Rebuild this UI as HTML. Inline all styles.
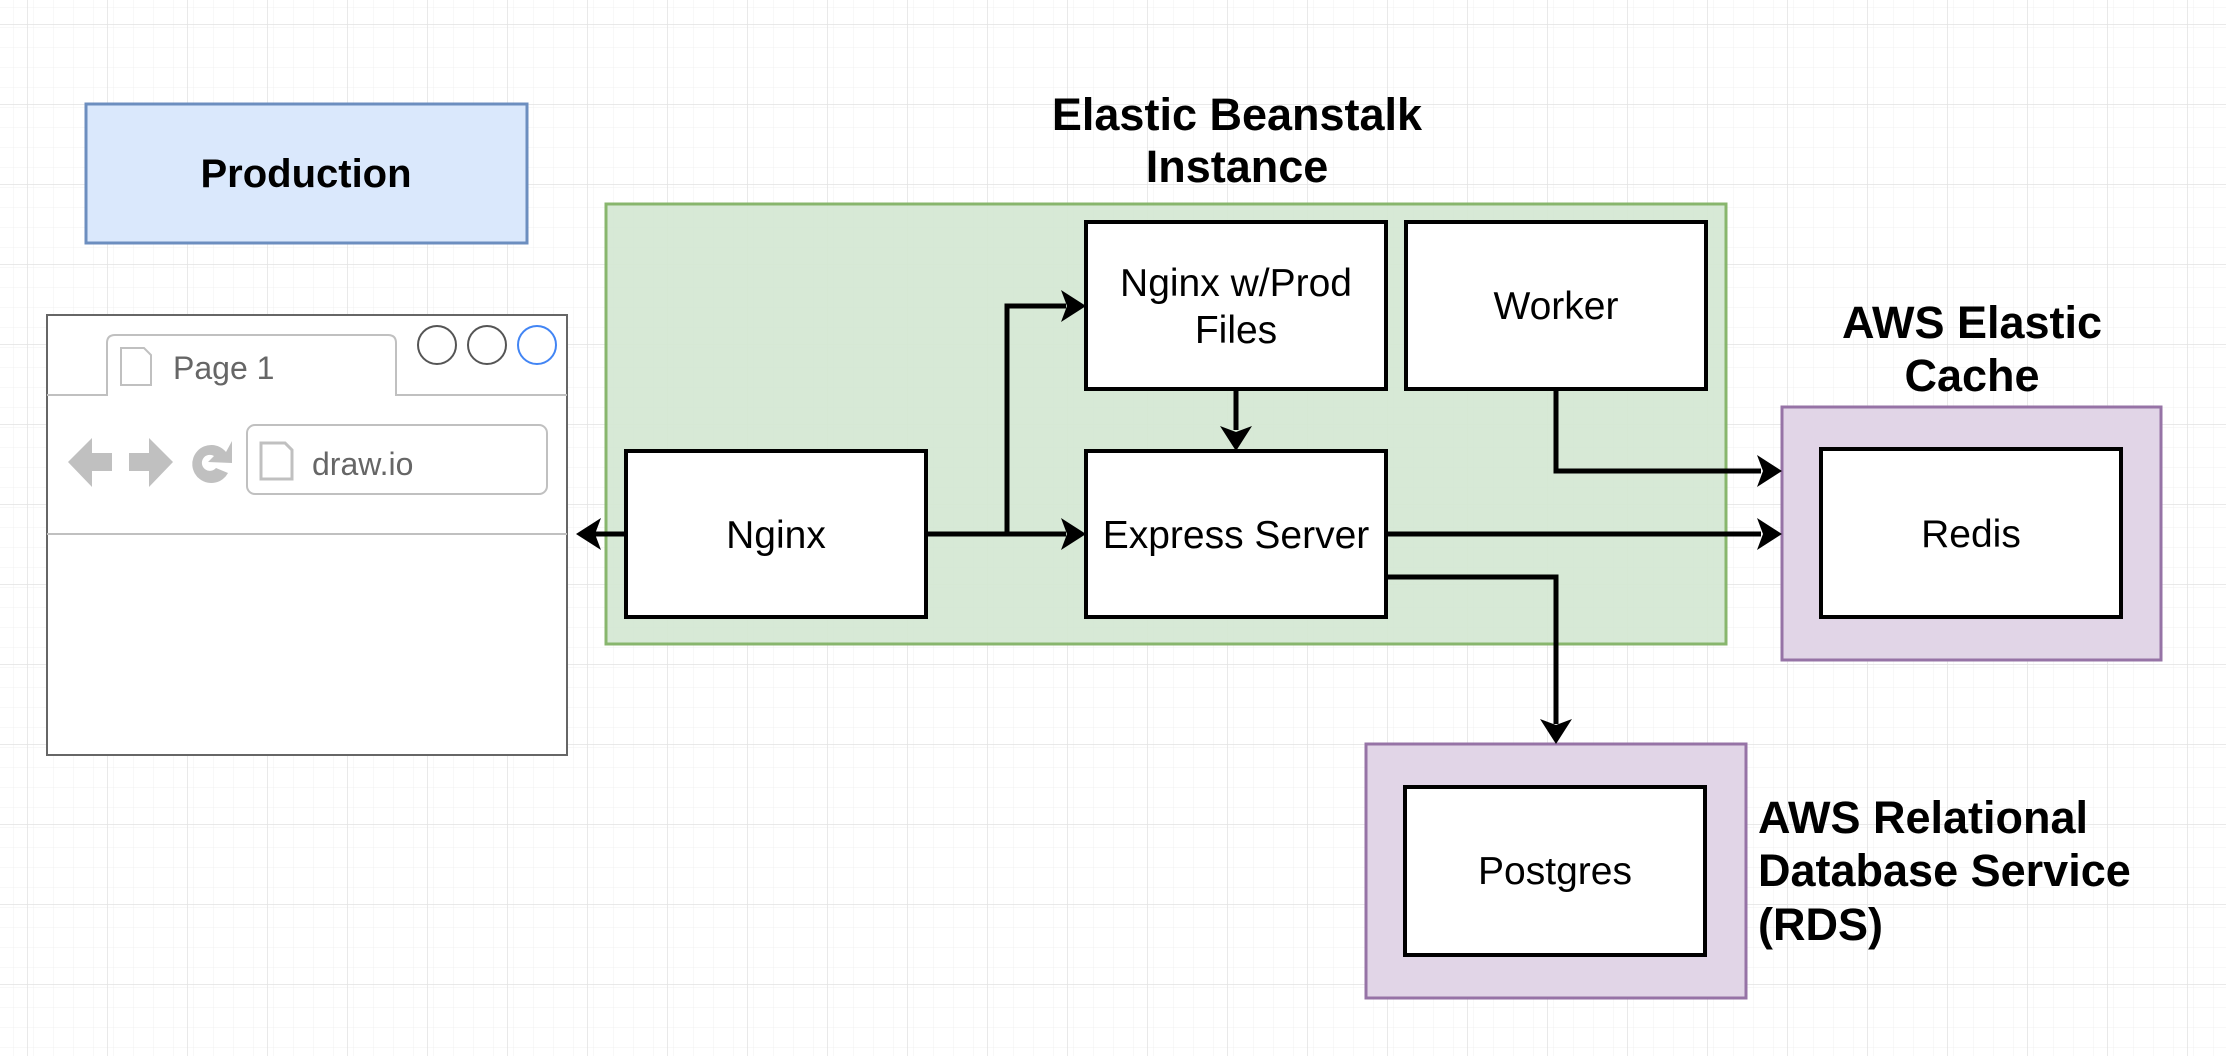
<!DOCTYPE html>
<html><head><meta charset="utf-8"><style>
html,body{margin:0;padding:0;background:#fff}
svg{display:block}
text{font-family:"Liberation Sans",Arial,sans-serif}
</style></head><body>
<svg width="2226" height="1056" viewBox="0 0 2226 1056" xmlns="http://www.w3.org/2000/svg">
<defs>
<pattern id="minor" width="20" height="20" patternUnits="userSpaceOnUse" x="7" y="4">
<path d="M20 0V20M0 20H20" fill="none" stroke="#f0f0f0" stroke-width="1"/>
</pattern>
<pattern id="major" width="80" height="80" patternUnits="userSpaceOnUse" x="27" y="24">
<rect width="80" height="80" fill="url(#minor)"/>
<path d="M0 0V80M0 0H80" fill="none" stroke="#e2e2e2" stroke-width="1.5"/>
</pattern>
</defs>
<rect width="2226" height="1056" fill="url(#major)"/>

<!-- Production -->
<rect x="86" y="104" width="441" height="139" fill="#dae8fc" stroke="#6c8ebf" stroke-width="3"/>
<text x="306" y="187" font-size="40" font-weight="bold" text-anchor="middle">Production</text>

<!-- Browser -->
<rect x="47" y="315" width="520" height="440" fill="#fff" stroke="#666" stroke-width="2"/>
<path d="M47 395H107V343Q107 335 115 335H388Q396 335 396 343V395H567" fill="none" stroke="#c0c0c0" stroke-width="2"/>
<path d="M121 348H144L151 355V385H121Z" fill="#fff" stroke="#c0c0c0" stroke-width="2"/>
<text x="173" y="379" font-size="32" fill="#666">Page 1</text>
<circle cx="437" cy="345" r="19" fill="#fff" stroke="#555" stroke-width="2"/>
<circle cx="487" cy="345" r="19" fill="#fff" stroke="#555" stroke-width="2"/>
<circle cx="537" cy="345" r="19" fill="#fff" stroke="#4285f4" stroke-width="2"/>
<line x1="47" y1="534" x2="567" y2="534" stroke="#c0c0c0" stroke-width="2"/>
<rect x="247" y="425" width="300" height="69" rx="8" fill="#fff" stroke="#c0c0c0" stroke-width="2"/>
<path d="M261 443H285L292 450V479H261Z" fill="#fff" stroke="#c0c0c0" stroke-width="3"/>
<text x="312" y="475" font-size="32" fill="#666">draw.io</text>
<path d="M68 462L92 438V453H112V471H92V487Z" fill="#c0c0c0"/>
<path d="M173 462L149 438V453H129V471H149V487Z" fill="#c0c0c0"/>
<path d="M226 452A19 19 0 1 0 228 473L216 468A8 8 0 1 1 214 456L208 462L232 463L232 441Z" fill="#c0c0c0"/>

<!-- Elastic Beanstalk -->
<text x="1237" y="130" font-size="45" font-weight="bold" text-anchor="middle">Elastic Beanstalk</text>
<text x="1237" y="182" font-size="45" font-weight="bold" text-anchor="middle">Instance</text>
<rect x="606" y="204" width="1120" height="440" fill="#d5e8d4" stroke="#82b366" stroke-width="3" opacity="0.95"/>

<g fill="#fff" stroke="#000" stroke-width="4">
<rect x="626" y="451" width="300" height="166"/>
<rect x="1086" y="222" width="300" height="167"/>
<rect x="1406" y="222" width="300" height="167"/>
<rect x="1086" y="451" width="300" height="166"/>
</g>
<g font-size="39" text-anchor="middle">
<text x="776" y="548">Nginx</text>
<text x="1236" y="296">Nginx w/Prod</text>
<text x="1236" y="343">Files</text>
<text x="1556" y="319">Worker</text>
<text x="1236" y="548">Express Server</text>
</g>

<!-- AWS Elastic Cache -->
<text x="1972" y="338" font-size="45" font-weight="bold" text-anchor="middle">AWS Elastic</text>
<text x="1972" y="391" font-size="45" font-weight="bold" text-anchor="middle">Cache</text>
<rect x="1782" y="407" width="379" height="253" fill="#e1d5e7" stroke="#9673a6" stroke-width="3"/>
<rect x="1821" y="449" width="300" height="168" fill="#fff" stroke="#000" stroke-width="4"/>
<text x="1971" y="547" font-size="39" text-anchor="middle">Redis</text>

<!-- RDS -->
<rect x="1366" y="744" width="380" height="254" fill="#e1d5e7" stroke="#9673a6" stroke-width="3"/>
<rect x="1405" y="787" width="300" height="168" fill="#fff" stroke="#000" stroke-width="4"/>
<text x="1555" y="884" font-size="39" text-anchor="middle">Postgres</text>
<text x="1758" y="833" font-size="45" font-weight="bold">AWS Relational</text>
<text x="1758" y="886" font-size="45" font-weight="bold">Database Service</text>
<text x="1758" y="940" font-size="45" font-weight="bold">(RDS)</text>

<!-- connectors -->
<g fill="none" stroke="#000" stroke-width="5">
<path d="M626 534H592"/>
<path d="M926 534H1066"/>
<path d="M1007 534V306H1066"/>
<path d="M1236 389V430"/>
<path d="M1556 389V471H1761"/>
<path d="M1386 534H1761"/>
<path d="M1386 577H1556V724"/>
</g>
<g fill="#000">
<path d="M576 534L601 518L595 534L601 550Z"/>
<path d="M1086 534L1061 518L1067 534L1061 550Z"/>
<path d="M1086 306L1061 290L1067 306L1061 322Z"/>
<path d="M1236 451L1220 426L1236 432L1252 426Z"/>
<path d="M1782 471L1757 455L1763 471L1757 487Z"/>
<path d="M1782 534L1757 518L1763 534L1757 550Z"/>
<path d="M1556 744L1540 719L1556 725L1572 719Z"/>
</g>
</svg>
</body></html>
